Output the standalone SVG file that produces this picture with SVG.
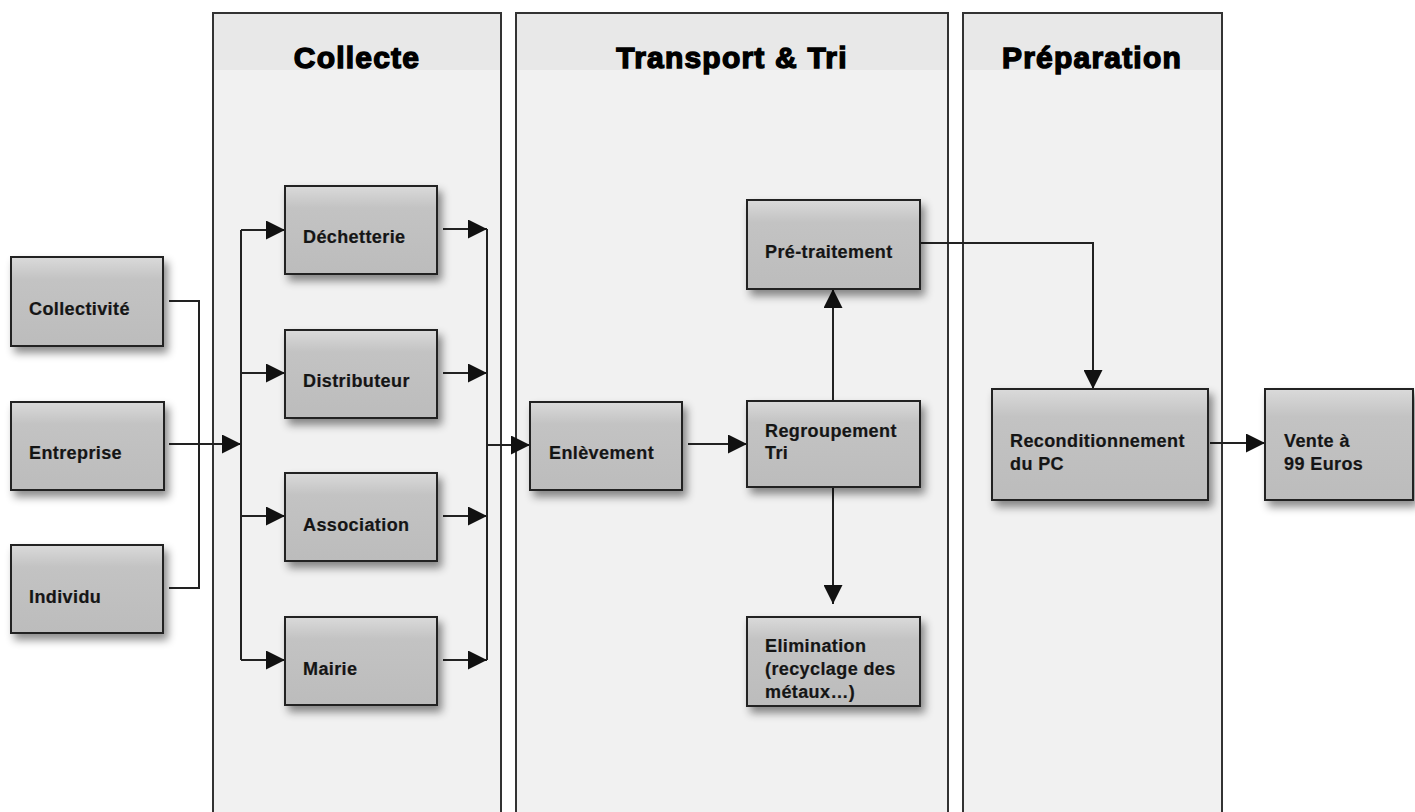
<svg xmlns="http://www.w3.org/2000/svg" width="1415" height="812" viewBox="0 0 1415 812">
<defs>
<linearGradient id="boxg" x1="0" y1="0" x2="0" y2="1">
<stop offset="0" stop-color="#dadada"/>
<stop offset="0.25" stop-color="#c3c3c3"/>
<stop offset="1" stop-color="#bcbcbc"/>
</linearGradient>
<filter id="sh" x="-20%" y="-20%" width="150%" height="160%">
<feDropShadow dx="4" dy="6" stdDeviation="4" flood-color="#000" flood-opacity="0.45"/>
</filter>
<marker id="arr" markerUnits="userSpaceOnUse" markerWidth="19" markerHeight="19" refX="19" refY="9.5" orient="auto">
<path d="M0,0 L19,9.5 L0,19 z" fill="#111"/>
</marker>
</defs>
<style>
.panel{fill:#f1f1f1;stroke:#333;stroke-width:2}
.head{fill:#e8e8e8}
.title{font-family:"Liberation Sans",Arial,sans-serif;font-weight:bold;font-size:30px;fill:#000;stroke:#000;stroke-width:1.4;letter-spacing:1.2px;text-anchor:middle}
.box{fill:url(#boxg);stroke:#222;stroke-width:2;filter:url(#sh)}
.lbl{font-family:"Liberation Sans",Arial,sans-serif;font-weight:bold;font-size:18px;fill:#151515;stroke:#151515;stroke-width:0.2;letter-spacing:0.4px}
.con{fill:none;stroke:#222;stroke-width:2}
</style>
<rect width="1415" height="812" fill="#fff"/>
<g id="panel-collecte">
<rect class="panel" x="213" y="13" width="288" height="820"/>
<rect class="head" x="214" y="14" width="286" height="56"/>
<text class="title" x="357" y="68">Collecte</text>
</g>
<g id="panel-transport">
<rect class="panel" x="516" y="13" width="432" height="820"/>
<rect class="head" x="517" y="14" width="430" height="56"/>
<text class="title" x="732" y="68">Transport &amp; Tri</text>
</g>
<g id="panel-preparation">
<rect class="panel" x="963" y="13" width="259" height="820"/>
<rect class="head" x="964" y="14" width="257" height="56"/>
<text class="title" x="1092" y="68">Préparation</text>
</g>
<g id="connectors">
<path class="con" d="M169,301 H199 V588 H169"/>
<path class="con" d="M169,444 H241" marker-end="url(#arr)"/>
<path class="con" d="M241,230 V660"/>
<path class="con" d="M241,230 H285" marker-end="url(#arr)"/>
<path class="con" d="M241,373 H285" marker-end="url(#arr)"/>
<path class="con" d="M241,516 H285" marker-end="url(#arr)"/>
<path class="con" d="M241,660 H285" marker-end="url(#arr)"/>
<path class="con" d="M443,229 H487" marker-end="url(#arr)"/>
<path class="con" d="M443,373 H487" marker-end="url(#arr)"/>
<path class="con" d="M443,516 H487" marker-end="url(#arr)"/>
<path class="con" d="M443,660 H487" marker-end="url(#arr)"/>
<path class="con" d="M487,229 V660"/>
<path class="con" d="M487,445 H530" marker-end="url(#arr)"/>
<path class="con" d="M688,444 H747" marker-end="url(#arr)"/>
<path class="con" d="M833,401 V289" marker-end="url(#arr)"/>
<path class="con" d="M920,243 H1093 V389" marker-end="url(#arr)"/>
<path class="con" d="M833,487 V604" marker-end="url(#arr)"/>
<path class="con" d="M1210,443 H1265" marker-end="url(#arr)"/>
</g>
<g id="collectivite"><rect class="box" x="11" y="257" width="152" height="89"/><text class="lbl" x="29" y="315">Collectivité</text></g>
<g id="entreprise"><rect class="box" x="11" y="402" width="153" height="88"/><text class="lbl" x="29" y="459">Entreprise</text></g>
<g id="individu"><rect class="box" x="11" y="545" width="152" height="88"/><text class="lbl" x="29" y="603">Individu</text></g>
<g id="dechetterie"><rect class="box" x="285" y="186" width="152" height="88"/><text class="lbl" x="303" y="243">Déchetterie</text></g>
<g id="distributeur"><rect class="box" x="285" y="330" width="152" height="88"/><text class="lbl" x="303" y="387">Distributeur</text></g>
<g id="association"><rect class="box" x="285" y="473" width="152" height="88"/><text class="lbl" x="303" y="531">Association</text></g>
<g id="mairie"><rect class="box" x="285" y="617" width="152" height="88"/><text class="lbl" x="303" y="675">Mairie</text></g>
<g id="enlevement"><rect class="box" x="530" y="402" width="152" height="88"/><text class="lbl" x="549" y="459">Enlèvement</text></g>
<g id="pretraitement"><rect class="box" x="747" y="200" width="173" height="89"/><text class="lbl" x="765" y="258">Pré-traitement</text></g>
<g id="regroupement"><rect class="box" x="747" y="401" width="173" height="86"/><text class="lbl" x="765" y="437">Regroupement</text><text class="lbl" x="765" y="459">Tri</text></g>
<g id="elimination"><rect class="box" x="747" y="617" width="173" height="89"/><text class="lbl" x="765" y="652">Elimination</text><text class="lbl" x="765" y="675">(recyclage des</text><text class="lbl" x="765" y="698">métaux…)</text></g>
<g id="reconditionnement"><rect class="box" x="992" y="389" width="216" height="111"/><text class="lbl" x="1010" y="447">Reconditionnement</text><text class="lbl" x="1010" y="470">du PC</text></g>
<g id="vente"><rect class="box" x="1265" y="389" width="148" height="111"/><text class="lbl" x="1284" y="447">Vente à</text><text class="lbl" x="1284" y="470">99 Euros</text></g>
</svg>
